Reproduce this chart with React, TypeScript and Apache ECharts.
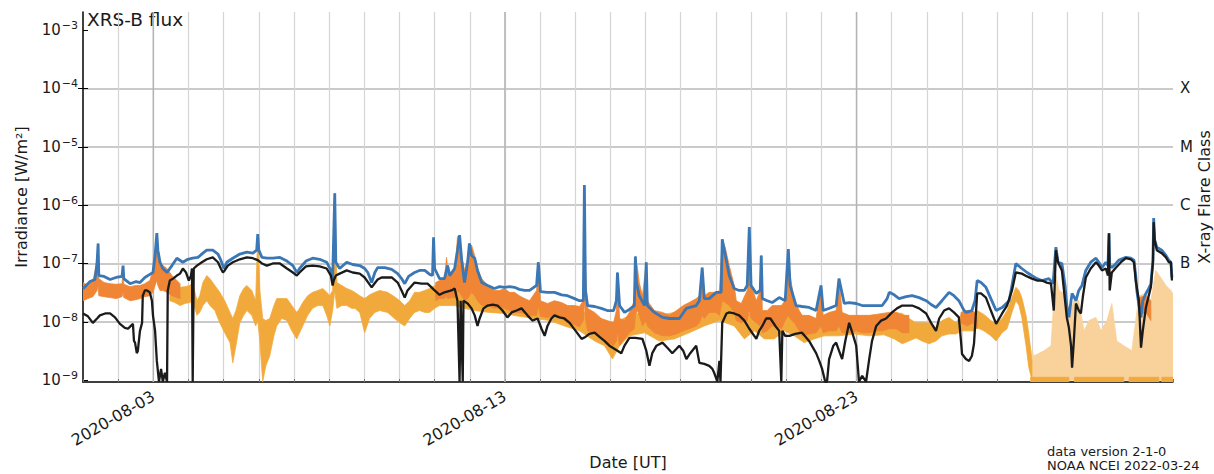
import React, { useEffect, useRef } from 'react';
import * as echarts from 'echarts';

// ---------- axis ticks / labels ----------
const xTickDays = [2, 12, 22]; // days since 2020-08-01 00:00 UT
const xTickLabels = ['2020-08-03', '2020-08-13', '2020-08-23'];
const yDecades = [1e-9, 1e-8, 1e-7, 1e-6, 1e-5, 1e-4, 1e-3];
const flareClassValues = [1e-7, 1e-6, 1e-5, 1e-4];
const flareClassLabels = ['B', 'C', 'M', 'X'];

// ---------- data (x = days since 2020-08-01 00:00 UT, y = W/m^2) ----------
const blueFlux: [number, number][] = [
  [0.00,3.7e-8],[0.20,4.9e-8],[0.34,5.3e-8],[0.40,1.05e-7],[0.43,2.2e-7],[0.45,6.2e-8],[0.60,6.0e-8],[0.77,5.3e-8],[0.94,5.75e-8],[1.11,6.0e-8],[1.14,9.2e-8],[1.16,5.5e-8],[1.34,4.5e-8],[1.51,4.9e-8],[1.62,4.7e-8],[1.76,5.75e-8],[1.90,6.5e-8],[1.99,7.0e-8],[2.05,1.37e-7],[2.10,3.3e-7],[2.13,1.69e-7],[2.19,1.05e-7],[2.27,8.2e-8],[2.39,7.0e-8],[2.53,9.2e-8],[2.67,1.23e-7],[2.84,1.05e-7],[2.98,1.18e-7],[3.12,1.23e-7],[3.27,1.27e-7],[3.41,1.5e-7],[3.52,1.69e-7],[3.69,1.69e-7],[3.84,1.45e-7],[3.92,1.14e-7],[4.01,8.2e-8],[4.09,1.05e-7],[4.26,1.23e-7],[4.46,1.45e-7],[4.66,1.56e-7],[4.83,1.5e-7],[4.94,1.69e-7],[4.97,3.2e-7],[5.00,1.69e-7],[5.09,1.27e-7],[5.23,1.23e-7],[5.40,1.23e-7],[5.60,1.27e-7],[5.80,1.1e-7],[5.97,9.2e-8],[6.08,7.0e-8],[6.16,8.2e-8],[6.34,1.1e-7],[6.53,1.23e-7],[6.73,1.18e-7],[6.93,1.05e-7],[7.05,7.6e-8],[7.10,5.5e-8],[7.16,1.6e-6],[7.19,1.05e-7],[7.30,8.2e-8],[7.50,1.05e-7],[7.67,9.6e-8],[7.87,9.2e-8],[8.01,8.2e-8],[8.10,7.0e-8],[8.21,4.7e-8],[8.30,7.0e-8],[8.38,8.5e-8],[8.58,8.5e-8],[8.78,7.9e-8],[8.95,6.7e-8],[9.06,5.5e-8],[9.15,4.5e-8],[9.26,6.0e-8],[9.43,7.0e-8],[9.57,7.6e-8],[9.72,7.6e-8],[9.86,6.5e-8],[9.94,6.2e-8],[9.97,2.8e-7],[10.00,8.2e-8],[10.14,5.5e-8],[10.28,5.5e-8],[10.37,9.2e-8],[10.43,6.2e-8],[10.57,8.2e-8],[10.65,1.69e-7],[10.71,3.06e-7],[10.77,1.14e-7],[10.85,4.7e-8],[10.94,1.05e-7],[10.99,2.2e-7],[11.05,1.37e-7],[11.14,1.23e-7],[11.22,7.6e-8],[11.34,4.7e-8],[11.51,4.2e-8],[11.70,3.73e-8],[11.85,4.0e-8],[11.99,3.9e-8],[12.13,4.0e-8],[12.27,3.9e-8],[12.41,3.6e-8],[12.56,3.45e-8],[12.70,3.45e-8],[12.90,4.2e-8],[12.95,1.05e-7],[13.01,3.3e-8],[13.21,3.2e-8],[13.41,3.2e-8],[13.61,2.9e-8],[13.78,2.8e-8],[13.98,2.5e-8],[14.12,2.3e-8],[14.23,2.3e-8],[14.26,2.2e-6],[14.29,3.45e-8],[14.35,1.9e-8],[14.55,1.83e-8],[14.74,1.7e-8],[14.91,1.56e-8],[15.09,1.56e-8],[15.17,2.3e-8],[15.20,7.0e-8],[15.26,1.9e-8],[15.40,1.45e-8],[15.54,1.63e-8],[15.68,1.9e-8],[15.71,1.32e-7],[15.74,4.7e-8],[15.82,2.8e-8],[15.97,1.9e-8],[16.02,1.05e-7],[16.05,1.9e-8],[16.25,1.45e-8],[16.48,1.19e-8],[16.68,1.14e-8],[16.96,1.14e-8],[17.16,1.7e-8],[17.44,1.9e-8],[17.53,2.3e-8],[17.61,8.5e-8],[17.67,2.5e-8],[17.81,2.5e-8],[18.01,3.2e-8],[18.15,3.2e-8],[18.18,2.6e-7],[18.27,1.37e-7],[18.38,6.2e-8],[18.52,3.73e-8],[18.66,3.45e-8],[18.81,3.45e-8],[18.89,4.2e-8],[18.95,4.2e-7],[19.00,4.2e-8],[19.15,3.06e-8],[19.26,3.45e-8],[19.29,1.37e-7],[19.32,2.5e-8],[19.46,2.3e-8],[19.60,2.14e-8],[19.80,2.6e-8],[19.97,2.3e-8],[20.06,1.76e-7],[20.11,4.2e-8],[20.28,1.9e-8],[20.45,1.83e-8],[20.65,1.76e-8],[20.85,1.56e-8],[20.99,4.2e-8],[21.05,1.56e-8],[21.22,1.7e-8],[21.42,1.9e-8],[21.50,5.5e-8],[21.65,2.06e-8],[21.79,2.14e-8],[21.99,2.06e-8],[22.16,1.9e-8],[22.36,1.9e-8],[22.56,1.9e-8],[22.73,1.9e-8],[22.87,2.5e-8],[22.93,3.2e-8],[23.07,2.9e-8],[23.21,2.5e-8],[23.41,2.7e-8],[23.58,2.8e-8],[23.78,2.6e-8],[23.98,2.3e-8],[24.12,1.98e-8],[24.26,1.76e-8],[24.43,2.3e-8],[24.63,3.2e-8],[24.77,2.8e-8],[24.91,2.3e-8],[25.06,1.56e-8],[25.11,1.45e-8],[25.28,1.56e-8],[25.37,2.3e-8],[25.43,5.1e-8],[25.54,4.7e-8],[25.68,3.9e-8],[25.82,2.5e-8],[25.97,1.56e-8],[26.14,1.76e-8],[26.34,2.3e-8],[26.42,4.2e-8],[26.53,1.0e-7],[26.70,8.2e-8],[26.85,7.0e-8],[26.99,6.2e-8],[27.13,5.5e-8],[27.27,5.1e-8],[27.47,5.5e-8],[27.59,4.5e-8],[27.64,1.14e-7],[27.67,1.9e-7],[27.73,1.05e-7],[27.84,1.0e-7],[27.93,4.2e-8],[27.98,1.9e-8],[28.04,1.19e-8],[28.10,2.3e-8],[28.13,3.06e-8],[28.24,2.3e-8],[28.32,3.45e-8],[28.41,4.2e-8],[28.52,7.6e-8],[28.66,1.05e-7],[28.81,1.23e-7],[28.89,1.05e-7],[28.98,8.5e-8],[29.09,1.05e-7],[29.15,9.2e-8],[29.18,3.3e-7],[29.20,9.2e-8],[29.26,8.5e-8],[29.38,1.0e-7],[29.46,1.14e-7],[29.66,1.27e-7],[29.80,1.23e-7],[29.89,1.14e-7],[29.94,6.2e-8],[29.97,3.45e-8],[30.03,1.9e-8],[30.09,1.19e-8],[30.14,2.3e-8],[30.23,3.06e-8],[30.31,3.73e-8],[30.37,4.5e-8],[30.43,1.14e-7],[30.45,6.0e-7],[30.48,2.5e-7],[30.54,1.9e-7],[30.68,1.69e-7],[30.80,1.37e-7],[30.88,1.14e-7],[30.94,1.05e-7],[30.97,5.75e-8]
];

const blackFlux: [number, number][] = [
  [0.00,1.39e-8],[0.14,1.24e-8],[0.28,9.6e-9],[0.40,1.14e-8],[0.48,1.29e-8],[0.63,1.39e-8],[0.77,1.39e-8],[0.91,1.19e-8],[1.05,9.2e-9],[1.19,7.9e-9],[1.28,7.6e-9],[1.36,8.5e-9],[1.42,9.2e-9],[1.45,4.7e-9],[1.48,4.4e-9],[1.53,2.9e-9],[1.56,3.2e-9],[1.62,7.0e-9],[1.68,9.6e-9],[1.70,2.8e-8],[1.76,3.45e-8],[1.82,3.45e-8],[1.90,3.2e-8],[1.96,2.3e-8],[1.99,1.29e-8],[2.05,7.0e-9],[2.10,2.14e-9],[2.16,9.4e-10],[2.22,1.56e-9],[2.27,9.4e-10],[2.33,1.34e-9],[2.39,9.4e-10],[2.41,3.45e-8],[2.47,5.1e-8],[2.56,5.5e-8],[2.67,6.2e-8],[2.76,6.7e-8],[2.84,8.2e-8],[2.93,7.0e-8],[3.01,5.1e-8],[3.07,6.2e-8],[3.10,8.2e-8],[3.12,9.4e-10],[3.15,8.2e-8],[3.24,9.2e-8],[3.38,1.05e-7],[3.52,1.18e-7],[3.69,1.27e-7],[3.84,1.05e-7],[3.92,8.2e-8],[3.98,7.0e-8],[4.03,7.6e-8],[4.12,9.2e-8],[4.26,1.05e-7],[4.46,1.18e-7],[4.66,1.27e-7],[4.83,1.23e-7],[4.97,1.14e-7],[5.09,1.0e-7],[5.23,9.2e-8],[5.40,1.0e-7],[5.60,1.0e-7],[5.80,8.2e-8],[5.97,7.0e-8],[6.08,6.2e-8],[6.16,7.0e-8],[6.34,8.9e-8],[6.53,9.2e-8],[6.73,8.9e-8],[6.93,8.2e-8],[7.05,6.2e-8],[7.10,4.2e-8],[7.13,5.1e-8],[7.19,6.2e-8],[7.30,6.7e-8],[7.50,7.6e-8],[7.67,7.0e-8],[7.87,6.7e-8],[8.01,5.75e-8],[8.21,3.9e-8],[8.38,5.3e-8],[8.49,5.75e-8],[8.66,5.75e-8],[8.78,5.75e-8],[8.95,4.7e-8],[9.06,3.45e-8],[9.15,2.6e-8],[9.23,3.45e-8],[9.43,4.7e-8],[9.63,4.5e-8],[9.80,4.5e-8],[10.00,3.45e-8],[10.14,2.9e-8],[10.28,3.2e-8],[10.48,3.45e-8],[10.57,3.73e-8],[10.65,2.3e-8],[10.71,9.4e-10],[10.74,2.3e-8],[10.80,9.4e-10],[10.82,2.3e-8],[10.94,2.06e-8],[11.05,1.7e-8],[11.14,1.29e-8],[11.22,8.5e-9],[11.28,1.14e-8],[11.39,1.7e-8],[11.51,1.9e-8],[11.65,1.98e-8],[11.79,1.9e-8],[11.93,1.56e-8],[12.07,1.19e-8],[12.19,1.45e-8],[12.33,1.56e-8],[12.47,1.7e-8],[12.64,1.29e-8],[12.78,1.05e-8],[12.93,1.14e-8],[13.04,7.6e-9],[13.13,5.75e-9],[13.21,8.5e-9],[13.32,1.14e-8],[13.41,1.29e-8],[13.55,1.19e-8],[13.69,1.14e-8],[13.84,9.6e-9],[14.01,7.0e-9],[14.18,5.1e-9],[14.29,5.5e-9],[14.40,6.2e-9],[14.55,6.5e-9],[14.69,5.5e-9],[14.83,4.7e-9],[14.97,3.9e-9],[15.11,3.45e-9],[15.20,3.2e-9],[15.31,2.9e-9],[15.40,3.9e-9],[15.54,5.3e-9],[15.71,5.3e-9],[15.91,5.1e-9],[16.02,3.2e-9],[16.11,1.76e-9],[16.19,2.9e-9],[16.31,3.9e-9],[16.48,4.4e-9],[16.62,3.6e-9],[16.76,2.9e-9],[16.88,3.45e-9],[16.96,3.9e-9],[17.07,3.2e-9],[17.16,2.3e-9],[17.27,2.9e-9],[17.44,3.9e-9],[17.53,1.98e-9],[17.67,1.9e-9],[17.81,1.76e-9],[17.90,1.56e-9],[17.95,1.34e-9],[18.01,1.06e-9],[18.04,9.4e-10],[18.10,2.14e-9],[18.13,9.4e-10],[18.18,9.6e-9],[18.30,1.39e-8],[18.38,1.45e-8],[18.52,1.39e-8],[18.66,1.29e-8],[18.81,1.05e-8],[18.95,7.6e-9],[19.15,5.1e-9],[19.23,7.0e-9],[19.32,8.5e-9],[19.43,1.14e-8],[19.55,1.14e-8],[19.69,8.5e-9],[19.80,7.0e-9],[19.86,9.4e-10],[19.89,7.0e-9],[19.97,5.75e-9],[20.09,5.75e-9],[20.26,6.2e-9],[20.45,6.5e-9],[20.65,4.7e-9],[20.85,2.9e-9],[20.94,2.14e-9],[21.02,1.56e-9],[21.11,9.4e-10],[21.16,9.4e-10],[21.22,2.3e-9],[21.34,3.9e-9],[21.42,4.4e-9],[21.50,3.2e-9],[21.59,2.3e-9],[21.68,4.7e-9],[21.79,9.6e-9],[21.88,6.5e-9],[21.99,3.9e-9],[22.07,9.4e-10],[22.16,1.19e-9],[22.27,9.4e-10],[22.36,2.3e-9],[22.44,4.7e-9],[22.56,8.5e-9],[22.70,1.05e-8],[22.84,1.14e-8],[23.01,1.45e-8],[23.15,1.7e-8],[23.30,1.9e-8],[23.44,1.9e-8],[23.58,1.9e-8],[23.78,1.7e-8],[23.98,1.39e-8],[24.12,9.6e-9],[24.26,7.0e-9],[24.35,1.14e-8],[24.49,1.56e-8],[24.63,1.7e-8],[24.77,1.45e-8],[24.91,1.19e-8],[24.97,4.7e-9],[25.00,2.8e-9],[25.11,2.3e-9],[25.20,2.14e-9],[25.28,2.6e-9],[25.34,4.2e-9],[25.40,1.56e-8],[25.43,3.06e-8],[25.54,3.06e-8],[25.68,2.6e-8],[25.82,1.56e-8],[25.97,9.2e-9],[26.14,1.39e-8],[26.28,1.9e-8],[26.42,3.45e-8],[26.53,7.0e-8],[26.70,6.7e-8],[26.85,6.0e-8],[26.99,5.5e-8],[27.13,5.1e-8],[27.27,5.1e-8],[27.41,4.7e-8],[27.53,4.5e-8],[27.61,1.56e-8],[27.67,1.69e-7],[27.73,1.05e-7],[27.84,7.6e-8],[27.93,2.3e-8],[27.98,1.19e-8],[28.04,7.9e-9],[28.10,3.9e-9],[28.13,1.63e-9],[28.18,4.7e-9],[28.24,2.06e-8],[28.32,1.56e-8],[28.38,1.39e-8],[28.44,2.8e-8],[28.52,5.75e-8],[28.66,8.2e-8],[28.81,1.05e-7],[28.89,9.2e-8],[28.98,7.6e-8],[29.09,8.2e-8],[29.15,6.2e-8],[29.18,3.3e-7],[29.20,3.45e-8],[29.26,7.0e-8],[29.38,8.5e-8],[29.52,1.05e-7],[29.66,1.23e-7],[29.80,1.18e-7],[29.89,1.05e-7],[29.94,5.1e-8],[30.03,2.3e-8],[30.09,3.6e-9],[30.14,7.0e-9],[30.23,1.76e-8],[30.31,2.8e-8],[30.37,3.9e-8],[30.43,1.05e-7],[30.45,5.1e-7],[30.48,2.5e-7],[30.54,1.69e-7],[30.68,1.5e-7],[30.80,1.27e-7],[30.88,1.05e-7],[30.94,1.05e-7],[30.97,5.1e-8]
];

// [day, lower, upper] envelopes of the scattered points; null = gap
const lightOrangeBand: ([number, number, number] | null)[] = [
  [2.47,2.3e-8,4.7e-8],[2.61,2.14e-8,4.2e-8],[2.76,1.9e-8,3.9e-8],[2.90,2.06e-8,4.0e-8],[3.04,2.14e-8,4.2e-8],[3.12,2.3e-8,4.7e-8],[3.24,1.29e-8,2.3e-8],[3.32,1.45e-8,2.8e-8],[3.41,1.9e-8,4.7e-8],[3.52,2.3e-8,6.2e-8],[3.61,1.9e-8,5.5e-8],[3.75,1.56e-8,4.2e-8],[3.89,9.6e-9,3.2e-8],[4.03,6.5e-9,2.3e-8],[4.18,4.4e-9,1.45e-8],[4.26,1.98e-9,1.14e-8],[4.35,3.9e-9,1.56e-8],[4.46,9.6e-9,2.8e-8],[4.57,1.29e-8,3.73e-8],[4.66,1.56e-8,4.2e-8],[4.80,1.29e-8,3.45e-8],[4.91,8.5e-9,2.3e-8],[4.97,1.05e-8,3.2e-7],[5.03,4.7e-9,3.45e-8],[5.11,9.4e-10,1.14e-8],[5.20,1.76e-9,1.05e-8],[5.31,2.6e-9,1.14e-8],[5.43,5.75e-9,1.9e-8],[5.51,8.5e-9,2.5e-8],[5.65,1.14e-8,2.5e-8],[5.80,1.05e-8,2.5e-8],[5.94,7.0e-9,1.9e-8],[6.08,5.1e-9,1.45e-8],[6.16,6.5e-9,1.7e-8],[6.25,8.5e-9,2.14e-8],[6.39,1.29e-8,2.8e-8],[6.53,1.7e-8,3.2e-8],[6.68,1.9e-8,3.45e-8],[6.82,1.9e-8,3.73e-8],[6.93,1.29e-8,3.2e-8],[7.02,8.5e-9,2.8e-8],[7.10,1.56e-8,3.45e-8],[7.16,3.45e-8,1.6e-6],[7.22,1.7e-8,4.7e-8],[7.36,1.9e-8,4.2e-8],[7.50,1.9e-8,3.73e-8],[7.64,1.7e-8,3.45e-8],[7.73,1.7e-8,3.2e-8],[7.87,1.45e-8,2.8e-8],[8.01,6.5e-9,2.5e-8],[8.15,1.14e-8,2.9e-8],[8.30,1.45e-8,3.2e-8],[8.44,1.56e-8,3.45e-8],[8.66,1.45e-8,3.2e-8],[8.86,1.14e-8,2.7e-8],[9.01,9.6e-9,2.3e-8],[9.15,8.5e-9,1.9e-8],[9.29,1.14e-8,2.3e-8],[9.43,1.45e-8,3.2e-8],[9.57,1.56e-8,3.2e-8],[9.72,1.45e-8,3.45e-8],[9.86,1.45e-8,3.73e-8],[10.00,1.7e-8,4.2e-8],[10.14,1.9e-8,4.2e-8],[10.28,1.9e-8,4.2e-8],[10.57,1.9e-8,3.73e-8],[10.85,1.7e-8,3.2e-8],[11.14,1.56e-8,3.2e-8],[11.56,1.45e-8,2.8e-8],[11.99,1.39e-8,2.5e-8],[12.41,1.24e-8,2.3e-8],[12.84,1.14e-8,2.06e-8],[13.27,1.05e-8,1.9e-8],[13.69,8.5e-9,1.7e-8],[14.12,7.0e-9,1.56e-8],[14.55,4.7e-9,1.29e-8],[14.83,3.9e-9,1.05e-8],[15.06,2.3e-9,9.6e-9],[15.26,3.9e-9,1.05e-8],[15.54,5.75e-9,1.29e-8],[15.97,6.5e-9,1.45e-8],[16.39,4.7e-9,1.29e-8],[16.82,5.1e-9,1.45e-8],[17.24,6.5e-9,1.9e-8],[17.67,8.5e-9,2.5e-8],[18.10,1.05e-8,2.8e-8],[18.52,8.5e-9,2.3e-8],[18.81,5.1e-9,1.29e-8],[19.09,7.0e-9,1.45e-8],[19.38,5.1e-9,1.14e-8],[19.66,5.1e-9,1.29e-8],[19.94,7.0e-9,1.7e-8],[20.23,5.75e-9,1.29e-8],[20.51,4.4e-9,9.6e-9],[20.80,5.1e-9,1.05e-8],[21.08,5.75e-9,1.14e-8],[21.50,5.75e-9,1.29e-8],[21.93,6.2e-9,1.14e-8],[22.36,5.75e-9,1.14e-8],[22.78,6.0e-9,1.24e-8],[23.07,5.1e-9,1.45e-8],[23.30,4.2e-9,1.39e-8],[23.49,4.7e-9,1.14e-8],[23.69,5.3e-9,9.6e-9],[23.86,4.7e-9,9.6e-9],[24.06,4.2e-9,9.6e-9],[24.26,4.7e-9,7.9e-9],[24.43,5.75e-9,1.05e-8],[24.63,6.2e-9,1.19e-8],[24.83,6.2e-9,9.6e-9],[25.00,7.0e-9,1.39e-8],[25.20,7.0e-9,1.56e-8],[25.34,7.0e-9,1.45e-8],[25.43,7.9e-9,1.56e-8],[25.62,7.0e-9,1.34e-8],[25.82,5.75e-9,1.05e-8],[25.97,4.7e-9,9.2e-9],[26.14,6.5e-9,1.14e-8],[26.28,7.6e-9,1.56e-8],[26.42,1.45e-8,2.6e-8],[26.53,2.3e-8,3.9e-8],[26.62,1.9e-8,3.45e-8],[26.70,1.19e-8,2.6e-8],[26.82,3.9e-9,1.29e-8],[26.90,1.63e-9,6.2e-9],[26.99,1.0e-9,2.14e-9]
];

const lightOrangeSparse: ([number, number, number] | null)[] = [
  [26.99,1.0e-9,3.27e-9],[27.04,1.0e-9,2.6e-9],[27.33,1.0e-9,3.2e-9],[27.53,1.0e-9,3.9e-9],[27.61,1.0e-9,2.3e-8],[27.67,1.0e-9,6.2e-8],[27.76,1.0e-9,3.45e-8],[27.90,1.0e-9,3.06e-8],[28.04,1.0e-9,1.19e-8],[28.18,1.0e-9,2.3e-8],[28.32,1.0e-9,2.3e-8],[28.47,1.0e-9,7.0e-9],[28.61,1.0e-9,1.05e-8],[28.81,1.0e-9,1.19e-8],[28.95,1.0e-9,7.0e-9],[29.12,1.0e-9,1.05e-8],[29.26,1.0e-9,2.06e-8],[29.40,1.0e-9,4.7e-9],[29.60,1.0e-9,3.9e-9],[29.83,1.0e-9,3.2e-9],[30.03,1.0e-9,2.8e-8],[30.23,1.0e-9,3.06e-8],[30.37,1.0e-9,2.3e-8],[30.51,1.0e-9,7.6e-8],[30.65,1.0e-9,5.75e-8],[30.80,1.0e-9,4.2e-8],[30.94,1.0e-9,3.45e-8],[31.00,1.0e-9,3.0e-8]
];

const lightOrangeFloor: ([number, number, number] | null)[] = [
  [26.95,9.3e-10,1.12e-9],[28.04,9.3e-10,1.12e-9], null,
  [28.20,9.3e-10,1.12e-9],[29.60,9.3e-10,1.12e-9], null,
  [29.75,9.3e-10,1.12e-9],[30.60,9.3e-10,1.12e-9], null,
  [30.68,9.3e-10,1.12e-9],[31.00,9.3e-10,1.12e-9]
];

const darkOrangeBand: ([number, number, number] | null)[] = [
  [0.00,2.3e-8,4.7e-8],[0.14,2.5e-8,4.2e-8],[0.28,2.7e-8,5.1e-8],[0.40,3.45e-8,1.05e-7],[0.43,4.2e-8,2.2e-7],[0.45,2.8e-8,5.5e-8],[0.60,2.7e-8,4.7e-8],[0.77,2.6e-8,4.5e-8],[0.94,2.5e-8,4.4e-8],[1.11,2.7e-8,4.5e-8],[1.14,3.2e-8,8.2e-8],[1.16,2.6e-8,4.4e-8],[1.34,2.3e-8,4.0e-8],[1.51,2.4e-8,4.2e-8],[1.62,2.5e-8,4.2e-8],[1.76,2.7e-8,4.5e-8],[1.90,2.8e-8,5.1e-8],[1.99,3.2e-8,7.6e-8],[2.05,4.2e-8,1.37e-7],[2.10,5.1e-8,3.3e-7],[2.13,4.2e-8,1.69e-7],[2.19,3.45e-8,1.05e-7],[2.27,3.45e-8,9.2e-8],[2.39,3.2e-8,8.2e-8],[2.53,2.8e-8,6.2e-8],[2.67,2.6e-8,5.1e-8],[2.76,2.5e-8,4.5e-8],
  null,
  [10.03,2.3e-8,4.7e-8],[10.14,2.5e-8,5.1e-8],[10.28,2.5e-8,5.5e-8],[10.34,2.8e-8,1.27e-7],[10.37,2.5e-8,7.6e-8],[10.48,2.6e-8,6.2e-8],[10.60,2.6e-8,9.2e-8],[10.65,3.45e-8,2.9e-7],[10.71,3.2e-8,2.9e-7],[10.77,2.8e-8,1.37e-7],[10.85,2.3e-8,7.6e-8],[10.94,2.5e-8,1.23e-7],[10.99,2.8e-8,2.2e-7],[11.05,3.2e-8,2.06e-7],[11.14,2.8e-8,1.37e-7],[11.22,2.3e-8,8.2e-8],[11.34,1.9e-8,5.5e-8],[11.51,1.9e-8,4.2e-8],[11.70,1.7e-8,3.45e-8],[11.85,1.76e-8,3.45e-8],[11.99,1.7e-8,3.73e-8],[12.13,1.56e-8,3.2e-8],[12.27,1.45e-8,3.2e-8],[12.41,1.45e-8,2.8e-8],[12.56,1.39e-8,2.5e-8],[12.70,1.29e-8,2.3e-8],[12.90,1.29e-8,3.45e-8],[12.95,1.9e-8,1.05e-7],[13.01,1.24e-8,2.3e-8],[13.21,1.19e-8,2.06e-8],[13.41,1.29e-8,2.3e-8],[13.61,1.14e-8,2.14e-8],[13.78,9.6e-9,1.9e-8],[13.98,8.9e-9,1.9e-8],[14.12,8.2e-9,1.83e-8],[14.23,1.05e-8,2.3e-8],[14.26,2.3e-8,2.2e-6],[14.29,1.14e-8,7.6e-8],[14.35,7.0e-9,1.7e-8],[14.55,6.2e-9,1.45e-8],[14.74,5.1e-9,1.14e-8],[14.91,4.4e-9,1.05e-8],[15.09,3.9e-9,9.6e-9],[15.17,4.7e-9,1.56e-8],[15.20,7.0e-9,7.0e-8],[15.26,3.9e-9,1.14e-8],[15.40,5.1e-9,1.05e-8],[15.54,6.5e-9,1.45e-8],[15.68,7.6e-9,2.3e-8],[15.71,1.29e-8,1.32e-7],[15.77,1.56e-8,8.2e-8],[15.82,1.29e-8,4.7e-8],[15.91,8.5e-9,2.8e-8],[16.02,1.05e-8,1.05e-7],[16.05,8.5e-9,2.3e-8],[16.25,6.5e-9,1.56e-8],[16.48,5.75e-9,1.45e-8],[16.68,5.75e-9,1.29e-8],[16.88,6.2e-9,1.56e-8],[17.07,7.0e-9,1.9e-8],[17.24,7.6e-9,2.14e-8],[17.44,8.5e-9,2.5e-8],[17.53,9.6e-9,2.8e-8],[17.61,1.29e-8,8.5e-8],[17.67,1.14e-8,2.8e-8],[17.81,1.45e-8,3.2e-8],[18.01,1.45e-8,3.2e-8],[18.10,1.29e-8,3.45e-8],[18.18,2.3e-8,2.6e-7],[18.27,2.14e-8,1.83e-7],[18.38,1.9e-8,9.2e-8],[18.52,1.45e-8,4.2e-8],[18.58,1.05e-8,2.3e-8],[18.72,9.6e-9,2.06e-8],[18.89,1.05e-8,3.45e-8],[18.95,1.56e-8,4.2e-7],[19.00,1.14e-8,4.2e-8],[19.15,9.6e-9,2.3e-8],[19.26,8.5e-9,3.45e-8],[19.29,9.6e-9,1.37e-7],[19.32,6.5e-9,1.56e-8],[19.46,7.0e-9,1.56e-8],[19.60,8.5e-9,1.9e-8],[19.72,8.5e-9,1.9e-8],[19.86,7.6e-9,1.9e-8],[19.97,1.05e-8,2.3e-8],[20.06,1.29e-8,1.76e-7],[20.11,1.14e-8,6.2e-8],[20.23,9.6e-9,2.3e-8],[20.37,7.0e-9,1.56e-8],[20.45,5.75e-9,1.29e-8],[20.65,6.2e-9,1.29e-8],[20.85,6.5e-9,1.14e-8],[20.99,8.5e-9,4.2e-8],[21.05,6.5e-9,1.29e-8],[21.22,7.0e-9,1.45e-8],[21.42,7.0e-9,1.56e-8],[21.50,8.5e-9,5.5e-8],[21.59,6.5e-9,1.45e-8],[21.79,6.5e-9,1.29e-8],[21.99,7.0e-9,1.29e-8],[22.16,6.5e-9,1.29e-8],[22.36,6.5e-9,1.29e-8],[22.56,7.0e-9,1.34e-8],[22.73,7.0e-9,1.39e-8],[22.93,7.6e-9,1.45e-8],[23.13,7.6e-9,1.45e-8],[23.30,6.5e-9,1.29e-8],[23.49,6.5e-9,1.29e-8],
  null,
  [24.97,9.6e-9,1.45e-8],[25.14,8.5e-9,1.56e-8],[25.31,9.6e-9,1.56e-8],[25.43,7.6e-9,1.14e-8],
  null,
  [30.03,1.29e-8,2.6e-8],[30.23,1.45e-8,2.8e-8],[30.37,1.05e-8,2.3e-8]
];

// ---------- axis extent (not data) ----------
const Y_MIN = 9.3e-10;
const Y_MAX = 2.04e-3;

function decadeLabel(v: number): string {
  const e = Math.log10(v);
  const r = Math.round(e);
  if (Math.abs(e - r) > 1e-6) return '';
  const exp = r < 0 ? '\u2212' + String(-r) : String(r);
  return '{b|10}{s|' + exp + '}';
}

type Row = [number, number, number] | null;
function splitSegments(rows: Row[]): [number, number, number][][] {
  const segs: [number, number, number][][] = [];
  let cur: [number, number, number][] = [];
  for (const r of rows) {
    if (r === null) {
      if (cur.length) segs.push(cur);
      cur = [];
    } else cur.push(r);
  }
  if (cur.length) segs.push(cur);
  return segs;
}

function bandSeries(rows: Row[], color: string, name: string) {
  const segs = splitSegments(rows);
  return {
    name,
    type: 'custom',
    coordinateSystem: 'cartesian2d',
    silent: true,
    clip: true,
    data: segs.map((s, k) => [s[0][0], s[0][2], k]),
    encode: { x: 0, y: 1 },
    renderItem: (params: any, api: any) => {
      const seg = segs[params.dataIndex];
      const upper = seg.map((r) => api.coord([r[0], r[2]]));
      const lower = seg.map((r) => api.coord([r[0], r[1]])).reverse();
      return {
        type: 'polygon',
        shape: { points: upper.concat(lower) },
        style: { fill: color, stroke: color, lineWidth: 0.8 },
      };
    },
  };
}

export default function App() {
  const ref = useRef<HTMLDivElement>(null);
  useEffect(() => {
    if (!ref.current) return;
    const chart = echarts.init(ref.current, undefined, { renderer: 'svg' });
    const textColor = '#1a1a1a';
    const font = 'DejaVu Sans';
    const option: any = {
      animation: false,
      textStyle: { fontFamily: font },
      grid: { left: 83, right: 41, top: 12, bottom: 92, containLabel: false, outerBoundsMode: 'none' },
      xAxis: {
        type: 'value',
        min: 0,
        max: 31,
        interval: 1,
        name: 'Date [UT]',
        nameLocation: 'middle',
        nameGap: 70,
        nameTextStyle: { fontSize: 16, color: textColor, fontFamily: font },
        axisLine: { onZero: false, lineStyle: { color: '#000', width: 1.5 } },
        axisTick: { inside: true, length: 3, lineStyle: { color: '#777', width: 1 } },
        axisLabel: {
          rotate: 30,
          fontSize: 16,
          color: textColor,
          margin: 13,
          hideOverlap: false,
          formatter: (v: number) => {
            const i = xTickDays.findIndex((d) => Math.abs(d - v) < 1e-6);
            return i >= 0 ? xTickLabels[i] : '';
          },
        },
        splitLine: { show: true, showMinLine: false, showMaxLine: false, lineStyle: { color: '#d5d5d5', width: 1.2 } },
      },
      yAxis: [
        {
          type: 'log',
          logBase: 10,
          min: Y_MIN,
          max: Y_MAX,
          position: 'left',
          name: 'Irradiance [W/m\u00B2]',
          nameLocation: 'middle',
          nameGap: 54,
          nameTextStyle: { fontSize: 16, color: textColor, fontFamily: font },
          axisLine: { show: true, onZero: false, lineStyle: { color: '#000', width: 1.5 } },
          axisTick: { show: true, inside: true, length: 5, customValues: yDecades, lineStyle: { color: '#000', width: 1 } },
          axisLabel: {
            customValues: yDecades,
            formatter: decadeLabel,
            color: textColor,
            margin: 5,
            rich: {
              b: { fontSize: 15, lineHeight: 20, color: textColor, fontFamily: font },
              s: { fontSize: 11, lineHeight: 12, verticalAlign: 'top', color: textColor, fontFamily: font, padding: [0, 0, 0, 1] },
            },
          },
          splitLine: { show: true, showMinLine: false, showMaxLine: false, lineStyle: { color: '#b9b9b9', width: 1.5 } },
        },
        {
          type: 'log',
          logBase: 10,
          min: Y_MIN,
          max: Y_MAX,
          position: 'right',
          axisLine: { show: false },
          axisTick: { show: true, inside: true, length: 5, customValues: flareClassValues, lineStyle: { color: '#000', width: 1 } },
          axisLabel: {
            customValues: flareClassValues,
            fontSize: 15,
            color: textColor,
            margin: 7,
            formatter: (v: number) => {
              const i = flareClassValues.findIndex((c) => Math.abs(Math.log10(c) - Math.log10(v)) < 1e-6);
              return i >= 0 ? flareClassLabels[i] : '';
            },
          },
          splitLine: { show: false },
        },
      ],
      graphic: [
        { type: 'text', left: 87, top: 10, style: { text: 'XRS-B flux', fontSize: 18.5, fill: textColor, fontFamily: font } },
        {
          type: 'text',
          x: 1204,
          y: 197,
          rotation: Math.PI / 2,
          style: { text: 'X-ray Flare Class', fontSize: 16, fill: textColor, fontFamily: font, align: 'center', verticalAlign: 'middle' },
        },
        { type: 'text', left: 1047, top: 445, style: { text: 'data version 2-1-0', fontSize: 13, fill: textColor, fontFamily: font } },
        { type: 'text', left: 1047, top: 459, style: { text: 'NOAA NCEI 2022-03-24', fontSize: 13, fill: textColor, fontFamily: font } },
      ],
      series: [
        {
          name: 'major-grid',
          type: 'custom',
          coordinateSystem: 'cartesian2d',
          silent: true,
          z: 1,
          data: xTickDays.map((d) => [d, 1e-6]),
          encode: { x: 0, y: 1 },
          renderItem: (_p: any, api: any) => {
            const d = api.value(0);
            const a = api.coord([d, Y_MAX]);
            const b = api.coord([d, Y_MIN]);
            return { type: 'line', shape: { x1: a[0], y1: a[1], x2: b[0], y2: b[1] }, style: { stroke: '#b3b3b3', lineWidth: 1.5 } };
          },
        },
        bandSeries(lightOrangeSparse, '#f8d29a', 'sparse'),
        bandSeries(lightOrangeFloor, '#f2a93b', 'floor'),
        {
          name: 'blue',
          type: 'line',
          data: blueFlux,
          symbol: 'none',
          showSymbol: false,
          clip: true,
          lineStyle: { color: '#3a77b4', width: 2.8 },
        },
        {
          name: 'black',
          type: 'line',
          data: blackFlux,
          symbol: 'none',
          showSymbol: false,
          clip: true,
          lineStyle: { color: '#1b1b1b', width: 2.3 },
        },
        bandSeries(lightOrangeBand, '#f2a93b', 'light'),
        bandSeries(darkOrangeBand, '#ef8535', 'dark'),
      ],
    };
    chart.setOption(option);
    return () => chart.dispose();
  }, []);
  return <div ref={ref} style={{ position: 'absolute', left: 0, top: 0, width: 1214, height: 474 }} />;
}
